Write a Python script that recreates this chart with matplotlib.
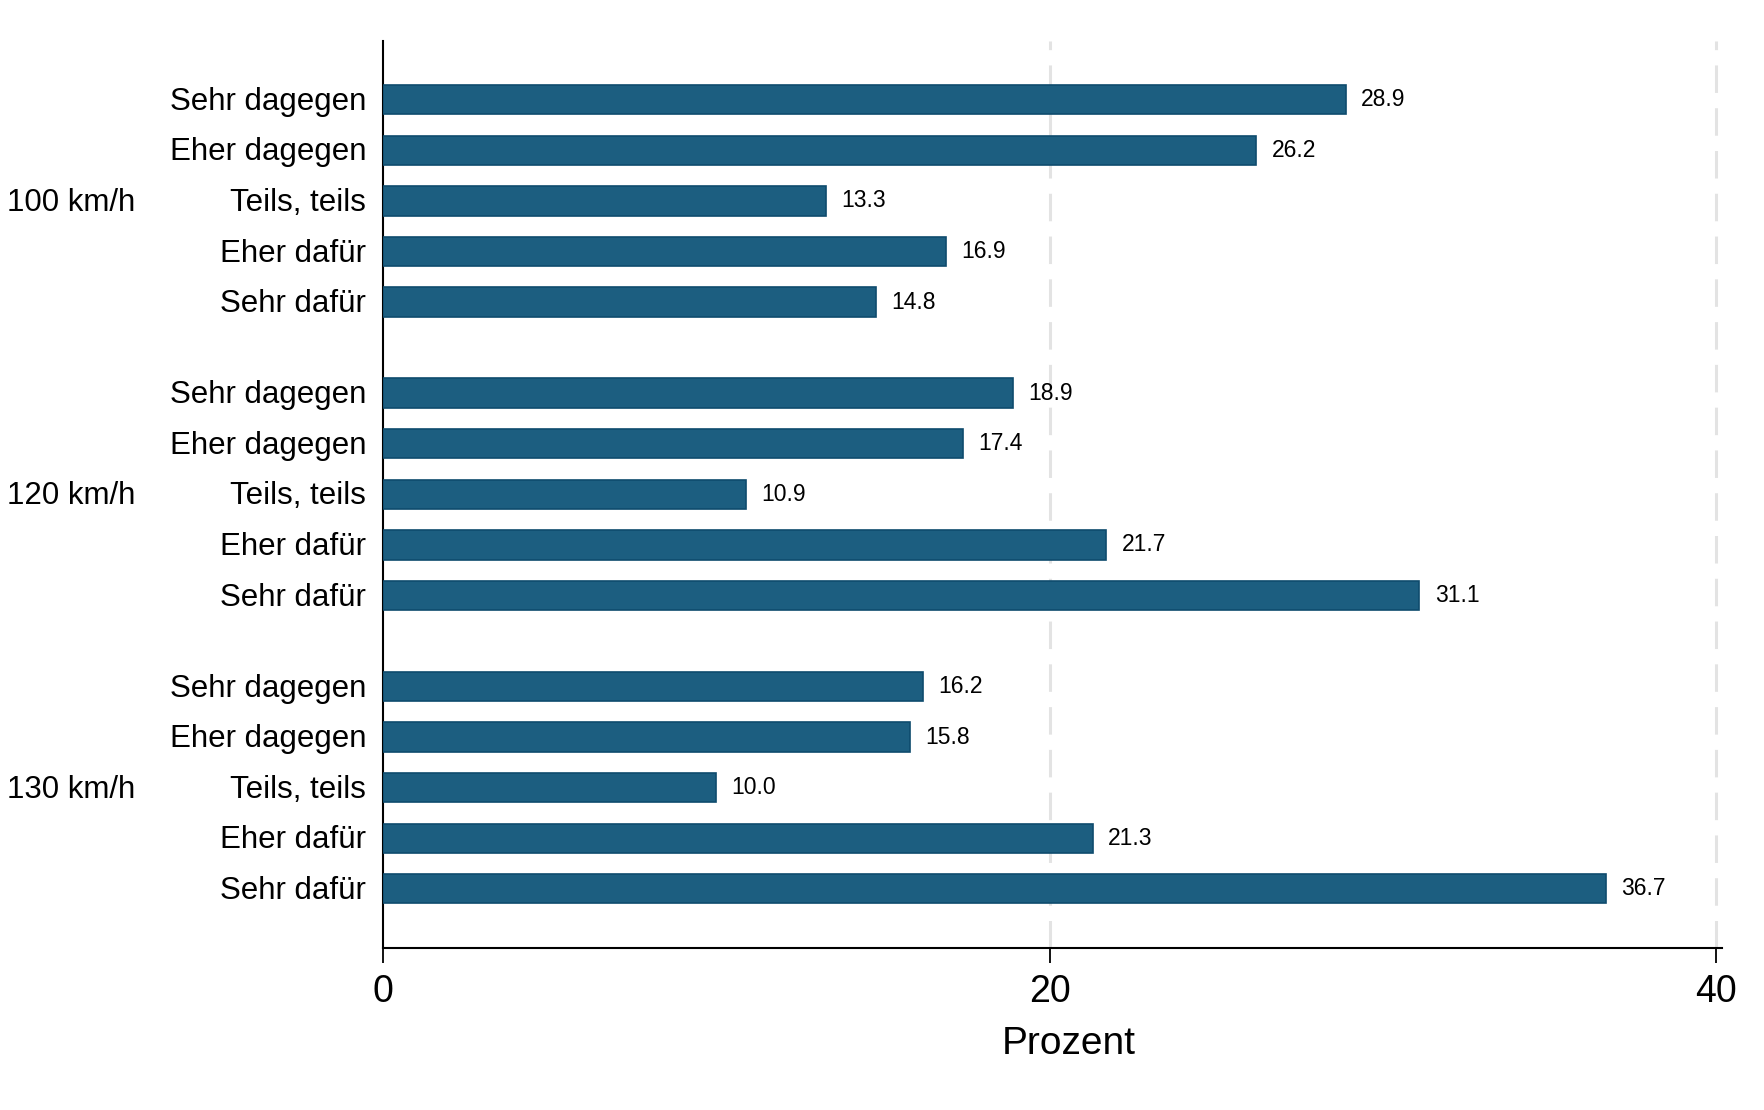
import numpy as np
import matplotlib
matplotlib.use("Agg")
from matplotlib import pyplot as plt

plt.rcParams['font.family'] = ['Liberation Sans', 'DejaVu Sans']

# Daten
gruppen = ['100 km/h', '120 km/h', '130 km/h']
antworten = ['Sehr dagegen', 'Eher dagegen', 'Teils, teils', 'Eher dafür', 'Sehr dafür']
werte_100 = [28.9, 26.2, 13.3, 16.9, 14.8]
werte_120 = [18.9, 17.4, 10.9, 21.7, 31.1]
werte_130 = [16.2, 15.8, 10.0, 21.3, 36.7]
alle_werte = [werte_100, werte_120, werte_130]

fig = plt.figure(figsize=(17.64, 11.10), dpi=100)
ax = fig.add_axes([383/1764, 1 - 948/1110, (1722 - 383)/1764, (948 - 40.5)/1110])

farbe = '#1c5e80'
rand = '#0e4b6d'
gap = 5.8

for g, werte in enumerate(alle_werte):
    y = g * gap + np.arange(len(antworten))
    ax.barh(y, werte, height=0.58, color=farbe, edgecolor=rand, linewidth=1.2, zorder=3)
    for yy, v in zip(y, werte):
        ax.annotate(f'{v:.1f}', (v, yy), xytext=(11, 0), textcoords='offset points',
                    va='center', ha='left', fontsize=16.5)
    for yy, a in zip(y, antworten):
        ax.annotate(a, (0, yy), xycoords=('axes fraction', 'data'), xytext=(-12, -1.5),
                    textcoords='offset points', ha='right', va='center', fontsize=22.5)
    ax.annotate(gruppen[g], (7/1764, y[2]), xycoords=('figure fraction', 'data'),
                xytext=(0, -1.5), textcoords='offset points',
                ha='left', va='center', fontsize=22.5)

ax.set_xlim(0, 40.18)
ax.set_ylim(2 * gap + 4 + 1.17, -1.17)
ax.set_yticks([])
ax.set_xticks([0, 20, 40])
ax.tick_params(axis='x', labelsize=27, length=11, width=1.3, pad=8)
for x in [20, 40]:
    ax.axvline(x, color='#e3e3e3', lw=2.2, ls=(0, (9, 5)), zorder=1)

for s in ['top', 'right']:
    ax.spines[s].set_visible(False)
ax.spines['left'].set_linewidth(1.5)
ax.spines['bottom'].set_linewidth(1.5)

fig.text(1069/1764, 1 - 1044/1110, 'Prozent', ha='center', va='center', fontsize=28)

fig.savefig('out.png', dpi=100, facecolor='white')
